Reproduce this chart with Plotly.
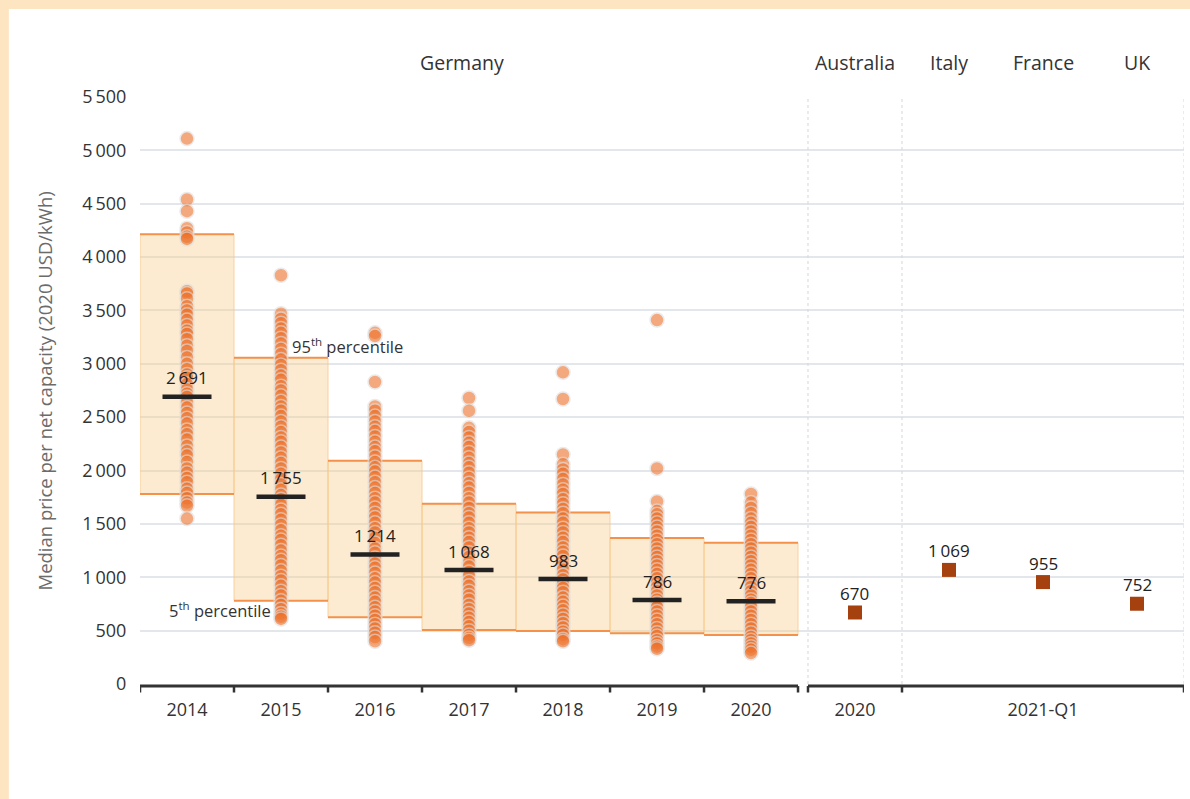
import plotly.graph_objects as go

# --- data -------------------------------------------------------------------
YEARS = ["2014", "2015", "2016", "2017", "2018", "2019", "2020"]

# 95th / 5th percentile band and median for Germany, per year (2020 USD/kWh)
P95 = [4213, 3057, 2092, 1689, 1608, 1368, 1324]
P5 = [1780, 781, 625, 506, 497, 475, 459]
MEDIANS = [2691, 1755, 1214, 1068, 983, 786, 776]

# individual German systems, per year
GER_2014 = [5110, 4540, 4430, 4270, 4230, 4190, 4170, 3680, 3660, 3610, 3540, 3500,
            3460, 3410, 3360, 3310, 3280, 3230, 3170, 3120, 3060, 3000, 2950, 2900,
            2870, 2810, 2760, 2720, 2690, 2640, 2590, 2540, 2490, 2440, 2380, 2340,
            2290, 2230, 2180, 2140, 2080, 2020, 1980, 1930, 1890, 1830, 1790, 1740,
            1700, 1670, 1550]
GER_2015 = [3830, 3470, 3420, 3380, 3330, 3290, 3240, 3190, 3140, 3090, 3040, 2990,
            2940, 2890, 2850, 2790, 2750, 2700, 2650, 2600, 2560, 2510, 2460, 2410,
            2360, 2310, 2270, 2220, 2170, 2120, 2070, 2020, 1970, 1920, 1870, 1820,
            1770, 1730, 1680, 1630, 1590, 1540, 1490, 1440, 1390, 1350, 1300, 1250,
            1200, 1160, 1110, 1060, 1010, 970, 920, 870, 830, 780, 740, 700, 660,
            630, 610]
GER_2016 = [3290, 3260, 2830, 2600, 2560, 2510, 2460, 2410, 2370, 2320, 2270, 2220,
            2180, 2130, 2080, 2030, 1990, 1940, 1890, 1840, 1790, 1740, 1700, 1650,
            1600, 1560, 1510, 1460, 1420, 1370, 1320, 1270, 1230, 1180, 1130, 1090,
            1040, 990, 950, 900, 860, 810, 770, 720, 680, 640, 600, 560, 520, 480,
            440, 400]
GER_2017 = [2680, 2560, 2400, 2360, 2310, 2260, 2220, 2170, 2120, 2070, 2030, 1980,
            1930, 1880, 1840, 1790, 1740, 1700, 1650, 1600, 1560, 1510, 1460, 1420,
            1370, 1330, 1280, 1230, 1190, 1140, 1100, 1050, 1010, 960, 920, 870, 830,
            790, 740, 700, 660, 620, 580, 540, 500, 460, 430, 410]
GER_2018 = [2920, 2670, 2150, 2060, 2010, 1970, 1920, 1870, 1820, 1780, 1730, 1690,
            1640, 1600, 1550, 1510, 1460, 1420, 1370, 1330, 1280, 1240, 1200, 1150,
            1110, 1070, 1020, 980, 940, 900, 860, 810, 770, 730, 690, 650, 610, 570,
            530, 490, 460, 420, 400]
GER_2019 = [3410, 2020, 1710, 1620, 1590, 1550, 1510, 1470, 1430, 1390, 1350, 1310,
            1270, 1230, 1190, 1150, 1110, 1070, 1030, 990, 950, 910, 870, 830, 790,
            760, 720, 680, 640, 600, 560, 520, 480, 450, 410, 380, 350, 330]
GER_2020 = [1780, 1700, 1650, 1600, 1550, 1510, 1470, 1430, 1390, 1350, 1310, 1270,
            1230, 1190, 1150, 1110, 1070, 1030, 990, 950, 910, 870, 830, 790, 760,
            720, 680, 640, 600, 560, 520, 480, 440, 410, 380, 350, 320, 290]
GER_POINTS = [GER_2014, GER_2015, GER_2016, GER_2017, GER_2018, GER_2019, GER_2020]

COUNTRIES = ["Australia", "Italy", "France", "UK"]
COUNTRY_VALUES = [670, 1069, 955, 752]
PERIOD_LABELS = ["2020", "2021-Q1"]

Y_TICKS = list(range(0, 5501, 500))

# --- layout helpers ---------------------------------------------------------
GAP = 0.106                      # break between the Germany block and the rest
ger_x = [i + 0.5 for i in range(len(YEARS))]
block2_start = len(YEARS) + GAP
other_x = [block2_start + 0.5 + i for i in range(len(COUNTRIES))]
x_end = block2_start + len(COUNTRIES)

FONT = "Open Sans"
TXT = "#333333"
ORANGE = "rgb(238,112,40)"
BAND_EDGE = "#f4924c"
SQUARE = "#a5400f"


def fmt(v):
    return f"{v:,}".replace(",", "\u2009")


fig = go.Figure()

# percentile bands
fig.add_trace(go.Bar(
    x=ger_x, y=[t - b for t, b in zip(P95, P5)], base=P5, width=1,
    marker=dict(color="rgba(247,205,137,0.40)",
                line=dict(color="rgba(248,200,140,0.8)", width=1)),
    hoverinfo="skip", showlegend=False,
))

# orange top / bottom edges of each band
edge_x, edge_y = [], []
for xc, top, bot in zip(ger_x, P95, P5):
    edge_x += [xc - 0.5, xc + 0.5, None, xc - 0.5, xc + 0.5, None]
    edge_y += [top, top, None, bot, bot, None]
fig.add_trace(go.Scatter(x=edge_x, y=edge_y, mode="lines",
                         line=dict(color=BAND_EDGE, width=2),
                         hoverinfo="skip", showlegend=False))

# individual systems
px, py = [], []
for xc, pts in zip(ger_x, GER_POINTS):
    px += [xc] * len(pts)
    py += pts
fig.add_trace(go.Scatter(
    x=px, y=py, mode="markers",
    marker=dict(size=14, color=ORANGE, opacity=0.6,
                line=dict(color="#dedede", width=1.5)),
    showlegend=False,
))

# medians
fig.add_trace(go.Scatter(
    x=ger_x, y=MEDIANS, mode="markers",
    marker=dict(symbol="line-ew", size=35, line=dict(color="#222222", width=4.5)),
    showlegend=False,
))

# other countries
fig.add_trace(go.Scatter(
    x=other_x, y=COUNTRY_VALUES, mode="markers",
    marker=dict(symbol="square", size=14, color=SQUARE),
    showlegend=False,
))

annotations = []
for xc, v in zip(ger_x + other_x, MEDIANS + COUNTRY_VALUES):
    annotations.append(dict(x=xc, y=v, text=fmt(v), showarrow=False, yshift=19,
                            font=dict(family=FONT, size=17, color="#222222")))

# group headers
HEAD_Y = 1.0596
annotations.append(dict(x=3.43, y=HEAD_Y, yref="paper", yanchor="middle", text="Germany",
                        showarrow=False, font=dict(family=FONT, size=19.5, color=TXT)))
for xc, name in zip(other_x, COUNTRIES):
    annotations.append(dict(x=xc, y=HEAD_Y, yref="paper", yanchor="middle", text=name,
                            showarrow=False, font=dict(family=FONT, size=19.5, color=TXT)))

# percentile labels
annotations.append(dict(x=1.6, y=3167, text="95<sup>th</sup> percentile", showarrow=False,
                        xanchor="left", yanchor="middle",
                        font=dict(family=FONT, size=16.5, color=TXT)))
annotations.append(dict(x=1.41, y=693, text="5<sup>th</sup> percentile", showarrow=False,
                        xanchor="right", yanchor="middle",
                        font=dict(family=FONT, size=16.5, color=TXT)))

# y-axis title
annotations.append(dict(x=-0.091, y=0.5, xref="paper", yref="paper",
                        xanchor="center", yanchor="middle",
                        text="Median price per net capacity (2020 USD/kWh)",
                        textangle=-90, showarrow=False,
                        font=dict(family=FONT, size=18.5, color="#6b6b6b")))

shapes = []
# cream frame on the left and top
shapes.append(dict(type="rect", xref="paper", yref="paper", x0=-0.2, x1=-0.1256,
                   y0=-0.3, y1=1.3, fillcolor="#fde5c2", line=dict(width=0), layer="below"))
shapes.append(dict(type="rect", xref="paper", yref="paper", x0=-0.2, x1=1.1,
                   y0=1.1499, y1=1.3, fillcolor="#fde5c2", line=dict(width=0), layer="below"))

# dotted separators
for xv in [block2_start, block2_start + 1, x_end]:
    shapes.append(dict(type="line", xref="x", yref="paper", x0=xv, x1=xv, y0=0, y1=1,
                       line=dict(color="#d3d6da", width=1, dash="dot")))

# broken baseline with boundary ticks
AX_Y = -0.0035
TICK_Y = -0.0145
for a, b in [(0, len(YEARS)), (block2_start, x_end)]:
    shapes.append(dict(type="line", xref="x", yref="paper", x0=a, x1=b, y0=AX_Y, y1=AX_Y,
                       line=dict(color="#333333", width=3)))
for xv in list(range(len(YEARS) + 1)) + [block2_start, block2_start + 1, x_end]:
    shapes.append(dict(type="line", xref="x", yref="paper", x0=xv, x1=xv, y0=AX_Y, y1=TICK_Y,
                       line=dict(color="#333333", width=2.5)))

fig.update_layout(
    width=1190, height=799,
    margin=dict(l=140, r=6, t=97, b=115),
    paper_bgcolor="white", plot_bgcolor="white",
    font=dict(family=FONT, color=TXT),
    showlegend=False,
    annotations=annotations,
    shapes=shapes,
    xaxis=dict(range=[0, x_end], showgrid=False, zeroline=False, showline=False,
               tickvals=ger_x + [other_x[0], other_x[2]],
               ticktext=YEARS + PERIOD_LABELS,
               ticks="outside", ticklen=9, tickcolor="rgba(0,0,0,0)",
               tickfont=dict(family=FONT, size=18, color=TXT)),
    yaxis=dict(range=[0, 5500], tickvals=Y_TICKS, ticktext=[fmt(v) for v in Y_TICKS],
               showgrid=True, gridcolor="#e3e7eb", gridwidth=1.5, zeroline=False,
               showline=False, ticks="outside", ticklen=9, tickcolor="rgba(0,0,0,0)",
               tickfont=dict(family=FONT, size=18, color=TXT)),
)

fig.write_html("out.html")
